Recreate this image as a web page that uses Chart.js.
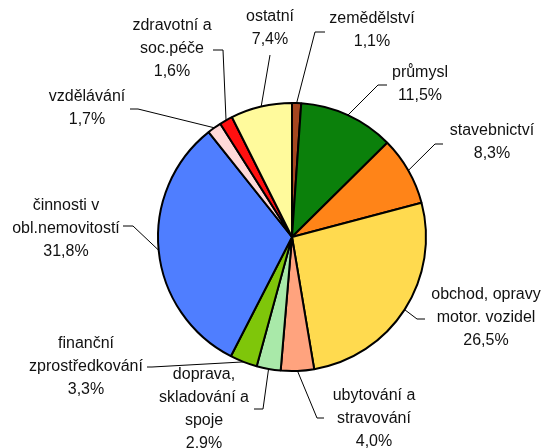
<!DOCTYPE html>
<html>
<head>
<meta charset="utf-8">
<script src="https://cdn.jsdelivr.net/npm/chart.js@4.4.1/dist/chart.umd.min.js"></script>
<style>
  html, body { margin: 0; padding: 0; background: #fff; }
  canvas { display: block; }
</style>
</head>
<body>
<canvas id="pie" width="543" height="448"></canvas>
<script>
// kategorie (řádky popisku) a podíly v %
var categories = [
  ['zemědělství'],
  ['průmysl'],
  ['stavebnictví'],
  ['obchod, opravy', 'motor. vozidel'],
  ['ubytování a', 'stravování'],
  ['doprava,', 'skladování a', 'spoje'],
  ['finanční', 'zprostředkování'],
  ['činnosti v', 'obl.nemovitostí'],
  ['vzdělávání'],
  ['zdravotní a', 'soc.péče'],
  ['ostatní']
];
var shares = [1.1, 11.5, 8.3, 26.5, 4.0, 2.9, 3.3, 31.8, 1.7, 1.6, 7.4];

var sliceColors = ['#A5461F', '#0B800B', '#FF8418', '#FFDA4F', '#FFA37E', '#A9E9A9',
                   '#7FC60A', '#4F7EFF', '#FFD9D9', '#FF1010', '#FFFA9C'];

// umístění popisků vůči středu koláče (text = střed 1. řádku, elbow/end = odbočka čáry)
var labelLayout = [
  { tx: 80,   ty: -214, ex: 23,   ey: -205, hx: 33,   hy: -205 },
  { tx: 128,  ty: -160, ex: 86,   ey: -152, hx: 95,   hy: -152 },
  { tx: 200,  ty: -102, ex: 143,  ey: -93,  hx: 151,  hy: -93 },
  { tx: 194,  ty: 62,   ex: 125,  ey: 82,   hx: 133,  hy: 82 },
  { tx: 82,   ty: 163,  ex: 25,   ey: 181,  hx: 32,   hy: 181 },
  { tx: -88,  ty: 142,  ex: -29,  ey: 172,  hx: -38,  hy: 172 },
  { tx: -206, ty: 111,  ex: -140, ey: 130,  hx: -145, hy: 130 },
  { tx: -226, ty: -27,  ex: -159, ey: -11,  hx: -169, hy: -11 },
  { tx: -205, ty: -136, ex: -154, ey: -128, hx: -162, hy: -128 },
  { tx: -120, ty: -207, ex: -69,  ey: -187, hx: -79,  hy: -187 },
  { tx: -22,  ty: -216, ex: -22,  ey: -182, hx: -22,  hy: -182 }
];

function formatPct(v) {
  return v.toFixed(1).replace('.', ',') + '%';
}

// popisky s vodicími čarami mimo koláč
var outsideLabels = {
  id: 'outsideLabels',
  afterDraw: function (chart) {
    var ctx = chart.ctx;
    var meta = chart.getDatasetMeta(0);
    ctx.save();
    meta.data.forEach(function (arc, i) {
      var p = arc.getProps(['x', 'y', 'startAngle', 'endAngle', 'outerRadius'], true);
      var mid = (p.startAngle + p.endAngle) / 2;
      var sx = p.x + Math.cos(mid) * p.outerRadius;
      var sy = p.y + Math.sin(mid) * p.outerRadius;
      var L = labelLayout[i];

      ctx.strokeStyle = '#000';
      ctx.lineWidth = 1;
      ctx.beginPath();
      ctx.moveTo(sx, sy);
      ctx.lineTo(p.x + L.ex, p.y + L.ey);
      ctx.lineTo(p.x + L.hx, p.y + L.hy);
      ctx.stroke();

      var lines = categories[i].concat([formatPct(shares[i])]);
      ctx.fillStyle = '#111';
      ctx.font = '16px "Liberation Sans", Arial, sans-serif';
      ctx.textAlign = 'center';
      ctx.textBaseline = 'alphabetic';
      lines.forEach(function (txt, k) {
        ctx.fillText(txt, p.x + L.tx, p.y + L.ty + k * 23);
      });
    });
    ctx.restore();
  }
};

new Chart(document.getElementById('pie'), {
  type: 'pie',
  data: {
    labels: categories.map(function (c) { return c.join(' '); }),
    datasets: [{
      data: shares,
      backgroundColor: sliceColors,
      borderColor: '#000',
      borderWidth: 2
    }]
  },
  options: {
    responsive: false,
    animation: false,
    devicePixelRatio: 1,
    layout: { padding: { left: 157, right: 116, top: 102, bottom: 76 } },
    plugins: {
      legend: { display: false },
      tooltip: { enabled: false }
    }
  },
  plugins: [outsideLabels]
});
</script>
</body>
</html>
